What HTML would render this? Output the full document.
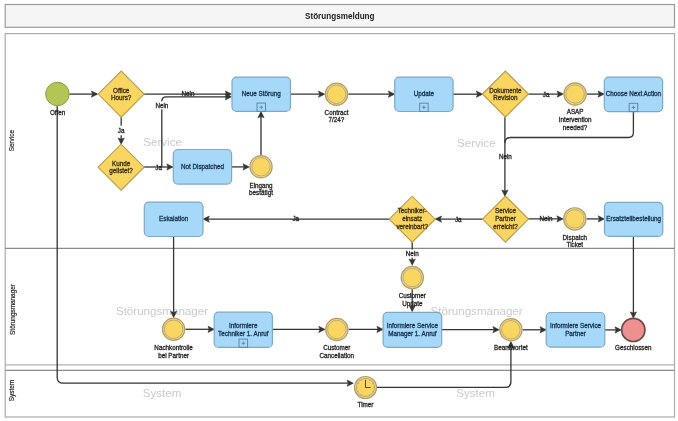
<!DOCTYPE html>
<html><head><meta charset="utf-8"><style>
html,body{margin:0;padding:0;background:#fff;}
svg{display:block;will-change:transform;}
text{font-family:"Liberation Sans", sans-serif;}
</style></head><body>
<svg width="678" height="421" viewBox="0 0 678 421">
<rect x="0" y="0" width="678" height="421" fill="#ffffff"/>
<rect x="5.2" y="4.5" width="669.3" height="22.8" fill="#f5f5f5" stroke="#9a9a9a" stroke-width="1.2"/>
<text x="339.8" y="16.2" font-size="8.15" font-weight="bold" fill="#222" text-anchor="middle" dominant-baseline="central">Störungsmeldung</text>
<rect x="5.2" y="33.6" width="669.3" height="383.4" fill="#ffffff" stroke="#ababab" stroke-width="1.2"/>
<path d="M5.2 248.4H674.5" stroke="#8a8a8a" stroke-width="1.1"/>
<path d="M5.2 364.8H674.5" stroke="#b0b0b0" stroke-width="1.2"/>
<path d="M5.2 370.4H674.5" stroke="#8a8a8a" stroke-width="1.1"/>
<text transform="translate(11.2,140.7) rotate(-90)" x="0" y="0" font-size="6.4" fill="#262626" stroke="#262626" stroke-width="0.2" text-anchor="middle" dominant-baseline="central">Service</text>
<text transform="translate(12.3,309.5) rotate(-90)" x="0" y="0" font-size="6.4" fill="#262626" stroke="#262626" stroke-width="0.2" text-anchor="middle" dominant-baseline="central">Störungsmanager</text>
<text transform="translate(11.8,390.5) rotate(-90)" x="0" y="0" font-size="6.4" fill="#262626" stroke="#262626" stroke-width="0.2" text-anchor="middle" dominant-baseline="central">System</text>
<text x="162.60" y="141.30" font-size="11.6" fill="#cacaca" text-anchor="middle" dominant-baseline="central">Service</text>
<text x="476.30" y="142.00" font-size="11.6" fill="#cacaca" text-anchor="middle" dominant-baseline="central">Service</text>
<text x="162.00" y="310.70" font-size="11.6" fill="#cacaca" text-anchor="middle" dominant-baseline="central">Störungsmanager</text>
<text x="476.60" y="310.30" font-size="11.6" fill="#cacaca" text-anchor="middle" dominant-baseline="central">Störungsmanager</text>
<text x="162.00" y="392.40" font-size="11.6" fill="#cacaca" text-anchor="middle" dominant-baseline="central">System</text>
<text x="475.50" y="392.80" font-size="11.6" fill="#cacaca" text-anchor="middle" dominant-baseline="central">System</text>
<path d="M69.2 94.1H97" fill="none" stroke="#343434" stroke-width="1.3"/>
<path d="M97.60 94.10 L91.40 91.00 L92.60 94.10 L91.40 97.20Z" fill="#343434" stroke="#343434" stroke-width="0.6" stroke-linejoin="miter"/>
<path d="M144.2 94.1H230" fill="none" stroke="#343434" stroke-width="1.3"/>
<path d="M231.50 94.10 L225.30 91.00 L226.50 94.10 L225.30 97.20Z" fill="#343434" stroke="#343434" stroke-width="0.6" stroke-linejoin="miter"/>
<path d="M121.2 117.2V143" fill="none" stroke="#343434" stroke-width="1.3"/>
<path d="M121.20 144.20 L118.10 138.00 L121.20 139.20 L124.30 138.00Z" fill="#343434" stroke="#343434" stroke-width="0.6" stroke-linejoin="miter"/>
<path d="M144.1 167H172" fill="none" stroke="#343434" stroke-width="1.3"/>
<path d="M173.00 167.00 L166.80 163.90 L168.00 167.00 L166.80 170.10Z" fill="#343434" stroke="#343434" stroke-width="0.6" stroke-linejoin="miter"/>
<path d="M161.8 167V101.3Q161.8 96.8 166.3 96.8H230" fill="none" stroke="#343434" stroke-width="1.3"/>
<path d="M231.50 96.80 L225.30 93.70 L226.50 96.80 L225.30 99.90Z" fill="#343434" stroke="#343434" stroke-width="0.6" stroke-linejoin="miter"/>
<path d="M231.6 166.9H248" fill="none" stroke="#343434" stroke-width="1.3"/>
<path d="M249.20 166.90 L243.00 163.80 L244.20 166.90 L243.00 170.00Z" fill="#343434" stroke="#343434" stroke-width="0.6" stroke-linejoin="miter"/>
<path d="M261 155V113" fill="none" stroke="#343434" stroke-width="1.3"/>
<path d="M261.00 111.60 L257.90 117.80 L261.00 116.60 L264.10 117.80Z" fill="#343434" stroke="#343434" stroke-width="0.6" stroke-linejoin="miter"/>
<path d="M290.5 94.2H323.5" fill="none" stroke="#343434" stroke-width="1.3"/>
<path d="M324.70 94.20 L318.50 91.10 L319.70 94.20 L318.50 97.30Z" fill="#343434" stroke="#343434" stroke-width="0.6" stroke-linejoin="miter"/>
<path d="M348.3 94.2H393.5" fill="none" stroke="#343434" stroke-width="1.3"/>
<path d="M394.60 94.20 L388.40 91.10 L389.60 94.20 L388.40 97.30Z" fill="#343434" stroke="#343434" stroke-width="0.6" stroke-linejoin="miter"/>
<path d="M453.1 94.2H481.5" fill="none" stroke="#343434" stroke-width="1.3"/>
<path d="M482.60 94.20 L476.40 91.10 L477.60 94.20 L476.40 97.30Z" fill="#343434" stroke="#343434" stroke-width="0.6" stroke-linejoin="miter"/>
<path d="M528.3 94.1H562" fill="none" stroke="#343434" stroke-width="1.3"/>
<path d="M563.30 94.10 L557.10 91.00 L558.30 94.10 L557.10 97.20Z" fill="#343434" stroke="#343434" stroke-width="0.6" stroke-linejoin="miter"/>
<path d="M586.9 94.1H603" fill="none" stroke="#343434" stroke-width="1.3"/>
<path d="M604.20 94.10 L598.00 91.00 L599.20 94.10 L598.00 97.20Z" fill="#343434" stroke="#343434" stroke-width="0.6" stroke-linejoin="miter"/>
<path d="M633.4 111.6V132.5Q633.4 137.5 628.4 137.5H510.4Q504.9 137.5 504.9 143" fill="none" stroke="#343434" stroke-width="1.3"/>
<path d="M504.9 117.2V195" fill="none" stroke="#343434" stroke-width="1.3"/>
<path d="M504.90 196.20 L501.80 190.00 L504.90 191.20 L508.00 190.00Z" fill="#343434" stroke="#343434" stroke-width="0.6" stroke-linejoin="miter"/>
<path d="M482.7 219.1H436.5" fill="none" stroke="#343434" stroke-width="1.3"/>
<path d="M435.30 219.10 L441.50 216.00 L440.30 219.10 L441.50 222.20Z" fill="#343434" stroke="#343434" stroke-width="0.6" stroke-linejoin="miter"/>
<path d="M389 219.1H204.5" fill="none" stroke="#343434" stroke-width="1.3"/>
<path d="M203.10 219.10 L209.30 216.00 L208.10 219.10 L209.30 222.20Z" fill="#343434" stroke="#343434" stroke-width="0.6" stroke-linejoin="miter"/>
<path d="M528.1 218.9H562" fill="none" stroke="#343434" stroke-width="1.3"/>
<path d="M563.10 218.90 L556.90 215.80 L558.10 218.90 L556.90 222.00Z" fill="#343434" stroke="#343434" stroke-width="0.6" stroke-linejoin="miter"/>
<path d="M586.6 218.9H603" fill="none" stroke="#343434" stroke-width="1.3"/>
<path d="M604.40 218.90 L598.20 215.80 L599.40 218.90 L598.20 222.00Z" fill="#343434" stroke="#343434" stroke-width="0.6" stroke-linejoin="miter"/>
<path d="M633.4 236.4V317" fill="none" stroke="#343434" stroke-width="1.3"/>
<path d="M633.40 318.10 L630.30 311.90 L633.40 313.10 L636.50 311.90Z" fill="#343434" stroke="#343434" stroke-width="0.6" stroke-linejoin="miter"/>
<path d="M412.2 242.3V264" fill="none" stroke="#343434" stroke-width="1.3"/>
<path d="M412.20 265.20 L409.10 259.00 L412.20 260.20 L415.30 259.00Z" fill="#343434" stroke="#343434" stroke-width="0.6" stroke-linejoin="miter"/>
<path d="M412.2 289.3V310.5" fill="none" stroke="#343434" stroke-width="1.3"/>
<path d="M412.20 311.60 L409.10 305.40 L412.20 306.60 L415.30 305.40Z" fill="#343434" stroke="#343434" stroke-width="0.6" stroke-linejoin="miter"/>
<path d="M173.6 236.5V316.5" fill="none" stroke="#343434" stroke-width="1.3"/>
<path d="M173.60 317.50 L170.50 311.30 L173.60 312.50 L176.70 311.30Z" fill="#343434" stroke="#343434" stroke-width="0.6" stroke-linejoin="miter"/>
<path d="M185.4 329.3H213" fill="none" stroke="#343434" stroke-width="1.3"/>
<path d="M214.20 329.30 L208.00 326.20 L209.20 329.30 L208.00 332.40Z" fill="#343434" stroke="#343434" stroke-width="0.6" stroke-linejoin="miter"/>
<path d="M272.4 329.4H323.8" fill="none" stroke="#343434" stroke-width="1.3"/>
<path d="M325.00 329.40 L318.80 326.30 L320.00 329.40 L318.80 332.50Z" fill="#343434" stroke="#343434" stroke-width="0.6" stroke-linejoin="miter"/>
<path d="M348.5 329.4H382" fill="none" stroke="#343434" stroke-width="1.3"/>
<path d="M383.10 329.40 L376.90 326.30 L378.10 329.40 L376.90 332.50Z" fill="#343434" stroke="#343434" stroke-width="0.6" stroke-linejoin="miter"/>
<path d="M441.7 329.7H497.9" fill="none" stroke="#343434" stroke-width="1.3"/>
<path d="M499.10 329.70 L492.90 326.60 L494.10 329.70 L492.90 332.80Z" fill="#343434" stroke="#343434" stroke-width="0.6" stroke-linejoin="miter"/>
<path d="M522.7 329.8H545" fill="none" stroke="#343434" stroke-width="1.3"/>
<path d="M546.20 329.80 L540.00 326.70 L541.20 329.80 L540.00 332.90Z" fill="#343434" stroke="#343434" stroke-width="0.6" stroke-linejoin="miter"/>
<path d="M604.8 329.9H620" fill="none" stroke="#343434" stroke-width="1.3"/>
<path d="M621.20 329.90 L615.00 326.80 L616.20 329.90 L615.00 333.00Z" fill="#343434" stroke="#343434" stroke-width="0.6" stroke-linejoin="miter"/>
<path d="M57.2 105.8V377.2Q57.2 383.2 63.2 383.2H352" fill="none" stroke="#343434" stroke-width="1.3"/>
<path d="M353.30 383.20 L347.10 380.10 L348.30 383.20 L347.10 386.30Z" fill="#343434" stroke="#343434" stroke-width="0.6" stroke-linejoin="miter"/>
<path d="M377 387.3H505.4Q510.9 387.3 510.9 381.8V343" fill="none" stroke="#343434" stroke-width="1.3"/>
<path d="M510.90 341.60 L507.80 347.80 L510.90 346.60 L514.00 347.80Z" fill="#343434" stroke="#343434" stroke-width="0.6" stroke-linejoin="miter"/>
<circle cx="57.4" cy="94" r="11.75" fill="#b2c655" stroke="#8d9d45" stroke-width="1"/>
<text x="57.60" y="112.50" font-size="6.3" font-weight="normal" fill="#1e1e1e" stroke="#1e1e1e" stroke-width="0.28" text-anchor="middle" dominant-baseline="central">Offen</text>
<path d="M98.20 94.10L121.20 71.10L144.20 94.10L121.20 117.10Z" fill="#f9d562" stroke="#b89c4c" stroke-width="1.1"/>
<text x="121.20" y="90.35" font-size="6.3" font-weight="normal" fill="#3a2f0a" stroke="#3a2f0a" stroke-width="0.3" text-anchor="middle" dominant-baseline="central">Office</text>
<text x="121.20" y="97.65" font-size="6.3" font-weight="normal" fill="#3a2f0a" stroke="#3a2f0a" stroke-width="0.3" text-anchor="middle" dominant-baseline="central">Hours?</text>
<path d="M98.10 167.20L121.10 144.20L144.10 167.20L121.10 190.20Z" fill="#f9d562" stroke="#b89c4c" stroke-width="1.1"/>
<text x="121.10" y="163.25" font-size="6.3" font-weight="normal" fill="#3a2f0a" stroke="#3a2f0a" stroke-width="0.3" text-anchor="middle" dominant-baseline="central">Kunde</text>
<text x="121.10" y="170.55" font-size="6.3" font-weight="normal" fill="#3a2f0a" stroke="#3a2f0a" stroke-width="0.3" text-anchor="middle" dominant-baseline="central">gelistet?</text>
<rect x="232.00" y="77.10" width="58.50" height="34.30" rx="4.5" ry="4.5" fill="#a6d9f9" stroke="#7ea8c4" stroke-width="1.2"/>
<text x="261.25" y="93.60" font-size="6.3" font-weight="normal" fill="#17314d" stroke="#17314d" stroke-width="0.3" text-anchor="middle" dominant-baseline="central">Neue Störung</text>
<rect x="257.00" y="103.10" width="8.5" height="8.3" fill="none" stroke="#6089a6" stroke-width="1"/>
<path d="M259.55 107.25H262.95M261.25 105.55V108.95" stroke="#5a7f9a" stroke-width="0.9"/>
<rect x="173.30" y="149.50" width="58.30" height="34.60" rx="4.5" ry="4.5" fill="#a6d9f9" stroke="#7ea8c4" stroke-width="1.2"/>
<text x="202.45" y="166.10" font-size="6.3" font-weight="normal" fill="#17314d" stroke="#17314d" stroke-width="0.3" text-anchor="middle" dominant-baseline="central">Not Dispatched</text>
<circle cx="261.00" cy="166.80" r="11.15" fill="#ead7a0" stroke="#b39e62" stroke-width="1.2"/>
<circle cx="261.00" cy="166.80" r="9.25" fill="#f9d562" stroke="#bba566" stroke-width="0.9"/>
<text x="261.00" y="185.10" font-size="6.3" font-weight="normal" fill="#1e1e1e" stroke="#1e1e1e" stroke-width="0.28" text-anchor="middle" dominant-baseline="central">Eingang</text>
<text x="261.00" y="192.70" font-size="6.3" font-weight="normal" fill="#1e1e1e" stroke="#1e1e1e" stroke-width="0.28" text-anchor="middle" dominant-baseline="central">bestätigt</text>
<circle cx="336.50" cy="94.30" r="11.15" fill="#ead7a0" stroke="#b39e62" stroke-width="1.2"/>
<circle cx="336.50" cy="94.30" r="9.25" fill="#f9d562" stroke="#bba566" stroke-width="0.9"/>
<text x="336.50" y="112.15" font-size="6.3" font-weight="normal" fill="#1e1e1e" stroke="#1e1e1e" stroke-width="0.28" text-anchor="middle" dominant-baseline="central">Contract</text>
<text x="336.50" y="119.75" font-size="6.3" font-weight="normal" fill="#1e1e1e" stroke="#1e1e1e" stroke-width="0.28" text-anchor="middle" dominant-baseline="central">7/24?</text>
<rect x="394.70" y="77.10" width="58.40" height="34.40" rx="4.5" ry="4.5" fill="#a6d9f9" stroke="#7ea8c4" stroke-width="1.2"/>
<text x="423.90" y="93.60" font-size="6.3" font-weight="normal" fill="#17314d" stroke="#17314d" stroke-width="0.3" text-anchor="middle" dominant-baseline="central">Update</text>
<rect x="419.65" y="103.20" width="8.5" height="8.3" fill="none" stroke="#6089a6" stroke-width="1"/>
<path d="M422.20 107.35H425.60M423.90 105.65V109.05" stroke="#5a7f9a" stroke-width="0.9"/>
<path d="M482.40 94.00L505.40 71.00L528.40 94.00L505.40 117.00Z" fill="#f9d562" stroke="#b89c4c" stroke-width="1.1"/>
<text x="505.40" y="90.35" font-size="6.3" font-weight="normal" fill="#3a2f0a" stroke="#3a2f0a" stroke-width="0.3" text-anchor="middle" dominant-baseline="central">Dokumente</text>
<text x="505.40" y="97.65" font-size="6.3" font-weight="normal" fill="#3a2f0a" stroke="#3a2f0a" stroke-width="0.3" text-anchor="middle" dominant-baseline="central">Revision</text>
<circle cx="575.10" cy="94.00" r="11.15" fill="#ead7a0" stroke="#b39e62" stroke-width="1.2"/>
<circle cx="575.10" cy="94.00" r="9.25" fill="#f9d562" stroke="#bba566" stroke-width="0.9"/>
<text x="575.10" y="111.80" font-size="6.3" font-weight="normal" fill="#1e1e1e" stroke="#1e1e1e" stroke-width="0.28" text-anchor="middle" dominant-baseline="central">ASAP</text>
<text x="575.10" y="119.50" font-size="6.3" font-weight="normal" fill="#1e1e1e" stroke="#1e1e1e" stroke-width="0.28" text-anchor="middle" dominant-baseline="central">Intervention</text>
<text x="575.10" y="127.20" font-size="6.3" font-weight="normal" fill="#1e1e1e" stroke="#1e1e1e" stroke-width="0.28" text-anchor="middle" dominant-baseline="central">needed?</text>
<rect x="604.30" y="77.10" width="58.30" height="34.50" rx="4.5" ry="4.5" fill="#a6d9f9" stroke="#7ea8c4" stroke-width="1.2"/>
<text x="633.45" y="93.60" font-size="6.3" font-weight="normal" fill="#17314d" stroke="#17314d" stroke-width="0.3" text-anchor="middle" dominant-baseline="central">Choose Next Action</text>
<rect x="629.20" y="103.30" width="8.5" height="8.3" fill="none" stroke="#6089a6" stroke-width="1"/>
<path d="M631.75 107.45H635.15M633.45 105.75V109.15" stroke="#5a7f9a" stroke-width="0.9"/>
<rect x="144.30" y="202.10" width="58.70" height="34.40" rx="4.5" ry="4.5" fill="#a6d9f9" stroke="#7ea8c4" stroke-width="1.2"/>
<text x="173.65" y="218.60" font-size="6.3" font-weight="normal" fill="#17314d" stroke="#17314d" stroke-width="0.3" text-anchor="middle" dominant-baseline="central">Eskalation</text>
<path d="M389.20 219.20L412.20 196.20L435.20 219.20L412.20 242.20Z" fill="#f9d562" stroke="#b89c4c" stroke-width="1.1"/>
<text x="412.20" y="210.90" font-size="6.3" font-weight="normal" fill="#3a2f0a" stroke="#3a2f0a" stroke-width="0.3" text-anchor="middle" dominant-baseline="central">Techniker-</text>
<text x="412.20" y="218.60" font-size="6.3" font-weight="normal" fill="#3a2f0a" stroke="#3a2f0a" stroke-width="0.3" text-anchor="middle" dominant-baseline="central">einsatz</text>
<text x="412.20" y="226.30" font-size="6.3" font-weight="normal" fill="#3a2f0a" stroke="#3a2f0a" stroke-width="0.3" text-anchor="middle" dominant-baseline="central">vereinbart?</text>
<path d="M482.50 219.10L505.50 196.10L528.50 219.10L505.50 242.10Z" fill="#f9d562" stroke="#b89c4c" stroke-width="1.1"/>
<text x="505.50" y="210.90" font-size="6.3" font-weight="normal" fill="#3a2f0a" stroke="#3a2f0a" stroke-width="0.3" text-anchor="middle" dominant-baseline="central">Service</text>
<text x="505.50" y="218.60" font-size="6.3" font-weight="normal" fill="#3a2f0a" stroke="#3a2f0a" stroke-width="0.3" text-anchor="middle" dominant-baseline="central">Partner</text>
<text x="505.50" y="226.30" font-size="6.3" font-weight="normal" fill="#3a2f0a" stroke="#3a2f0a" stroke-width="0.3" text-anchor="middle" dominant-baseline="central">erreicht?</text>
<circle cx="574.80" cy="218.90" r="11.15" fill="#ead7a0" stroke="#b39e62" stroke-width="1.2"/>
<circle cx="574.80" cy="218.90" r="9.25" fill="#f9d562" stroke="#bba566" stroke-width="0.9"/>
<text x="574.80" y="237.20" font-size="6.3" font-weight="normal" fill="#1e1e1e" stroke="#1e1e1e" stroke-width="0.28" text-anchor="middle" dominant-baseline="central">Dispatch</text>
<text x="574.80" y="244.80" font-size="6.3" font-weight="normal" fill="#1e1e1e" stroke="#1e1e1e" stroke-width="0.28" text-anchor="middle" dominant-baseline="central">Ticket</text>
<rect x="604.50" y="202.30" width="58.30" height="34.10" rx="4.5" ry="4.5" fill="#a6d9f9" stroke="#7ea8c4" stroke-width="1.2"/>
<text x="633.65" y="218.65" font-size="6.3" font-weight="normal" fill="#17314d" stroke="#17314d" stroke-width="0.3" text-anchor="middle" dominant-baseline="central">Ersatzteilbestellung</text>
<circle cx="412.30" cy="277.60" r="11.15" fill="#ead7a0" stroke="#b39e62" stroke-width="1.2"/>
<circle cx="412.30" cy="277.60" r="9.25" fill="#f9d562" stroke="#bba566" stroke-width="0.9"/>
<text x="412.30" y="295.45" font-size="6.3" font-weight="normal" fill="#1e1e1e" stroke="#1e1e1e" stroke-width="0.28" text-anchor="middle" dominant-baseline="central">Customer</text>
<text x="412.30" y="303.05" font-size="6.3" font-weight="normal" fill="#1e1e1e" stroke="#1e1e1e" stroke-width="0.28" text-anchor="middle" dominant-baseline="central">Update</text>
<circle cx="173.60" cy="329.30" r="11.15" fill="#ead7a0" stroke="#b39e62" stroke-width="1.2"/>
<circle cx="173.60" cy="329.30" r="9.25" fill="#f9d562" stroke="#bba566" stroke-width="0.9"/>
<text x="173.60" y="347.65" font-size="6.3" font-weight="normal" fill="#1e1e1e" stroke="#1e1e1e" stroke-width="0.28" text-anchor="middle" dominant-baseline="central">Nachkontrolle</text>
<text x="173.60" y="355.25" font-size="6.3" font-weight="normal" fill="#1e1e1e" stroke="#1e1e1e" stroke-width="0.28" text-anchor="middle" dominant-baseline="central">bei Partner</text>
<rect x="214.20" y="312.20" width="58.20" height="35.20" rx="4.5" ry="4.5" fill="#a6d9f9" stroke="#7ea8c4" stroke-width="1.2"/>
<text x="243.30" y="325.80" font-size="6.3" font-weight="normal" fill="#17314d" stroke="#17314d" stroke-width="0.3" text-anchor="middle" dominant-baseline="central">Informiere</text>
<text x="243.30" y="333.40" font-size="6.3" font-weight="normal" fill="#17314d" stroke="#17314d" stroke-width="0.3" text-anchor="middle" dominant-baseline="central">Techniker 1. Anruf</text>
<rect x="239.05" y="339.10" width="8.5" height="8.3" fill="none" stroke="#6089a6" stroke-width="1"/>
<path d="M241.60 343.25H245.00M243.30 341.55V344.95" stroke="#5a7f9a" stroke-width="0.9"/>
<circle cx="336.80" cy="329.50" r="11.15" fill="#ead7a0" stroke="#b39e62" stroke-width="1.2"/>
<circle cx="336.80" cy="329.50" r="9.25" fill="#f9d562" stroke="#bba566" stroke-width="0.9"/>
<text x="336.80" y="347.90" font-size="6.3" font-weight="normal" fill="#1e1e1e" stroke="#1e1e1e" stroke-width="0.28" text-anchor="middle" dominant-baseline="central">Customer</text>
<text x="336.80" y="355.50" font-size="6.3" font-weight="normal" fill="#1e1e1e" stroke="#1e1e1e" stroke-width="0.28" text-anchor="middle" dominant-baseline="central">Cancellation</text>
<rect x="383.10" y="312.40" width="58.60" height="34.90" rx="4.5" ry="4.5" fill="#a6d9f9" stroke="#7ea8c4" stroke-width="1.2"/>
<text x="412.40" y="325.90" font-size="6.3" font-weight="normal" fill="#17314d" stroke="#17314d" stroke-width="0.3" text-anchor="middle" dominant-baseline="central">Informiere Service</text>
<text x="412.40" y="333.50" font-size="6.3" font-weight="normal" fill="#17314d" stroke="#17314d" stroke-width="0.3" text-anchor="middle" dominant-baseline="central">Manager 1. Anruf</text>
<circle cx="510.90" cy="329.80" r="11.15" fill="#ead7a0" stroke="#b39e62" stroke-width="1.2"/>
<circle cx="510.90" cy="329.80" r="9.25" fill="#f9d562" stroke="#bba566" stroke-width="0.9"/>
<text x="510.90" y="347.60" font-size="6.3" font-weight="normal" fill="#1e1e1e" stroke="#1e1e1e" stroke-width="0.28" text-anchor="middle" dominant-baseline="central">Beantwortet</text>
<rect x="546.20" y="312.50" width="58.60" height="34.70" rx="4.5" ry="4.5" fill="#a6d9f9" stroke="#7ea8c4" stroke-width="1.2"/>
<text x="575.50" y="325.55" font-size="6.3" font-weight="normal" fill="#17314d" stroke="#17314d" stroke-width="0.3" text-anchor="middle" dominant-baseline="central">Informiere Service</text>
<text x="575.50" y="333.45" font-size="6.3" font-weight="normal" fill="#17314d" stroke="#17314d" stroke-width="0.3" text-anchor="middle" dominant-baseline="central">Partner</text>
<circle cx="633.3" cy="329.9" r="11.6" fill="#ec9090" stroke="#6a4848" stroke-width="1.7"/>
<text x="633.30" y="347.70" font-size="6.3" font-weight="normal" fill="#1e1e1e" stroke="#1e1e1e" stroke-width="0.28" text-anchor="middle" dominant-baseline="central">Geschlossen</text>
<circle cx="365.5" cy="387.5" r="11.0" fill="#ead7a0" stroke="#b39e62" stroke-width="1.2"/>
<circle cx="365.5" cy="387.5" r="9.1" fill="#f9d562" stroke="#bba566" stroke-width="0.9"/>
<path d="M373.10 387.50L374.50 387.50M372.08 391.30L373.29 392.00M369.30 394.08L370.00 395.29M365.50 395.10L365.50 396.50M361.70 394.08L361.00 395.29M358.92 391.30L357.71 392.00M357.90 387.50L356.50 387.50M358.92 383.70L357.71 383.00M361.70 380.92L361.00 379.71M365.50 379.90L365.50 378.50M369.30 380.92L370.00 379.71M372.08 383.70L373.29 383.00" stroke="#b89a50" stroke-width="0.6"/>
<path d="M365.5 380.2V387.5H370.6" fill="none" stroke="#333" stroke-width="0.9"/>
<text x="365.50" y="404.20" font-size="6.3" font-weight="normal" fill="#1e1e1e" stroke="#1e1e1e" stroke-width="0.28" text-anchor="middle" dominant-baseline="central">Timer</text>
<text x="188.00" y="93.30" font-size="6.3" font-weight="normal" fill="#222" stroke="#222" stroke-width="0.28" text-anchor="middle" dominant-baseline="central">Nein</text>
<rect x="154.90" y="101.30" width="14" height="8" fill="#ffffff"/>
<text x="161.90" y="105.30" font-size="6.3" font-weight="normal" fill="#222" stroke="#222" stroke-width="0.28" text-anchor="middle" dominant-baseline="central">Nein</text>
<rect x="117.20" y="125.75" width="8" height="9.5" fill="#ffffff"/>
<text x="121.20" y="130.50" font-size="6.3" font-weight="normal" fill="#222" stroke="#222" stroke-width="0.28" text-anchor="middle" dominant-baseline="central">Ja</text>
<text x="158.70" y="167.00" font-size="6.3" font-weight="normal" fill="#222" stroke="#222" stroke-width="0.28" text-anchor="middle" dominant-baseline="central">Ja</text>
<text x="505.40" y="156.30" font-size="6.3" font-weight="normal" fill="#222" stroke="#222" stroke-width="0.28" text-anchor="middle" dominant-baseline="central">Nein</text>
<text x="546.10" y="94.00" font-size="6.3" font-weight="normal" fill="#222" stroke="#222" stroke-width="0.28" text-anchor="middle" dominant-baseline="central">Ja</text>
<text x="458.30" y="219.00" font-size="6.3" font-weight="normal" fill="#222" stroke="#222" stroke-width="0.28" text-anchor="middle" dominant-baseline="central">Ja</text>
<text x="295.80" y="218.80" font-size="6.3" font-weight="normal" fill="#222" stroke="#222" stroke-width="0.28" text-anchor="middle" dominant-baseline="central">Ja</text>
<text x="546.00" y="218.90" font-size="6.3" font-weight="normal" fill="#222" stroke="#222" stroke-width="0.28" text-anchor="middle" dominant-baseline="central">Nein</text>
<rect x="405.20" y="249.60" width="14" height="8" fill="#ffffff"/>
<text x="412.20" y="253.60" font-size="6.3" font-weight="normal" fill="#222" stroke="#222" stroke-width="0.28" text-anchor="middle" dominant-baseline="central">Nein</text>
</svg>
</body></html>
